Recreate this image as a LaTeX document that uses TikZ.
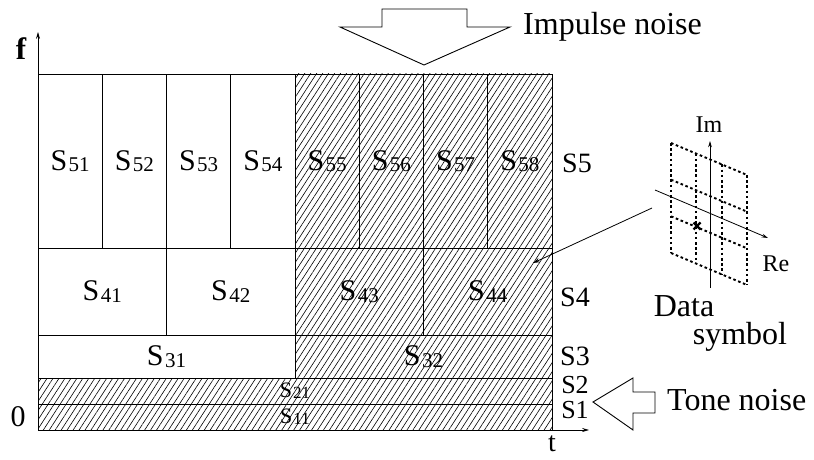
\documentclass[tikz,border=0pt]{standalone}
\usepackage{fontspec}
\setmainfont{Liberation Serif}
\usepackage{tikz}
\usetikzlibrary{arrows.meta, calc, patterns.meta}
\newcommand{\Slab}[1]{\fontsize{30}{30}\selectfont S\kern1.5pt\raisebox{-1.5pt}{\fontsize{21}{21}\selectfont #1}}
\newcommand{\Sslab}[1]{\fontsize{22}{22}\selectfont S\kern1pt\raisebox{-1pt}{\fontsize{17}{17}\selectfont #1}}
\tikzset{
  cell/.style={draw=black, line width=0.9pt, inner sep=0pt, outer sep=0pt},
  hatch/.style={pattern={Lines[angle=57, distance=5pt, line width=0.6pt]}},
  row5/.style={minimum width=64.25pt, minimum height=174pt},
  row4/.style={minimum width=128.5pt, minimum height=87pt},
  row3/.style={minimum width=257pt, minimum height=43pt},
  rowlow/.style={minimum width=514pt, minimum height=26pt},
  axis/.style={-{Stealth[length=2.4mm,width=1.4mm]}, line width=0.8pt},
  thinarr/.style={-{Stealth[length=2.2mm,width=1.3mm]}, line width=0.8pt},
  ptr/.style={-{Stealth[length=2.4mm,width=1.5mm]}, line width=0.8pt},
  blockarr/.style={draw=black, line width=0.9pt, fill=white, line join=miter},
  dotgrid/.style={line width=1.9pt, dash pattern=on 2.6pt off 2.6pt},
  big/.style={font=\fontsize{32}{34}\selectfont, inner sep=0pt},
  band/.style={font=\fontsize{28}{28}\selectfont, inner sep=0pt},
  small/.style={font=\fontsize{24}{24}\selectfont, inner sep=0pt}
}
\begin{document}
\begin{tikzpicture}[x=1pt, y=1pt]
\useasboundingbox (0,0) rectangle (814,-460);
% ---------- band S5 ----------
\node[cell, row5] (s51) at ( 70.125,-161) {\Slab{51}};
\node[cell, row5] (s52) at (134.375,-161) {\Slab{52}};
\node[cell, row5] (s53) at (198.625,-161) {\Slab{53}};
\node[cell, row5] (s54) at (262.875,-161) {\Slab{54}};
\node[cell, row5, hatch] (s55) at (327.125,-161) {\Slab{55}};
\node[cell, row5, hatch] (s56) at (391.375,-161) {\Slab{56}};
\node[cell, row5, hatch] (s57) at (455.625,-161) {\Slab{57}};
\node[cell, row5, hatch] (s58) at (519.875,-161) {\Slab{58}};
% ---------- band S4 ----------
\node[cell, row4] (s41) at (102.25,-291.5) {\Slab{41}};
\node[cell, row4] (s42) at (230.75,-291.5) {\Slab{42}};
\node[cell, row4, hatch] (s43) at (359.25,-291.5) {\Slab{43}};
\node[cell, row4, hatch] (s44) at (487.75,-291.5) {\Slab{44}};
% ---------- bands S3, S2, S1 ----------
\node[cell, row3] (s31) at (166.5,-356.5) {\Slab{31}};
\node[cell, row3, hatch] (s32) at (423.5,-356.5) {\Slab{32}};
\node[cell, rowlow, hatch] (s21) at (295,-391) {\Sslab{21}};
\node[cell, rowlow, hatch] (s11) at (295,-417) {\Sslab{11}};
% ---------- axes ----------
\coordinate (o) at (38,-430);
\coordinate (ftop) at (38,-32);
\coordinate (tend) at (589,-430);
\draw[axis] (o) -- (ftop);
\draw[axis] (o) -- (tend);
\node[font=\fontsize{31}{31}\selectfont\bfseries, inner sep=0pt] (flab) at (21,-49) {f};
\node[big, font=\fontsize{30}{30}\selectfont] (zero) at (18,-417) {0};
\node[big, font=\fontsize{28}{28}\selectfont] (tlab) at (552,-444) {t};
% ---------- band labels ----------
\node[band] (l5) at (577,-163) {S5};
\node[band] (l4) at (575,-297) {S4};
\node[band] (l3) at (575,-356) {S3};
\node[band, font=\fontsize{26}{26}\selectfont] (l2) at (575,-385) {S2};
\node[band, font=\fontsize{26}{26}\selectfont] (l1) at (575,-410) {S1};
% ---------- noise arrows ----------
\draw[blockarr] (382,-9) -- (467,-9) -- (467,-27) -- (510,-27) -- (424,-65)
  -- (340,-27) -- (382,-27) -- cycle;
\node[big, anchor=west] (imp) at (523,-27) {Impulse noise};
\draw[blockarr] (593,-402) -- (633,-378) -- (633,-392) -- (655,-392) -- (655,-413)
  -- (633,-413) -- (633,-430) -- cycle;
\node[big, anchor=west] (tone) at (667,-400) {Tone noise};
% ---------- data symbol constellation ----------
\coordinate (cTL) at (671,-143);
\foreach \i in {0,1,2,3} {
  \draw[dotgrid] ($(cTL)+\i/3*(76,-32)$) -- ++(0,-110);
  \draw[dotgrid] ($(cTL)+\i/3*(0,-110)$) -- ++(76,-32);
}
\coordinate (imlo) at (710,-288);
\coordinate (imhi) at (710,-141);
\draw[thinarr] (imlo) -- (imhi);
\coordinate (relo) at (655,-190);
\coordinate (rehi) at (768,-238);
\draw[thinarr] (relo) -- (rehi);
\node[small] (im) at (709,-125) {Im};
\node[small] (re) at (776,-264) {Re};
\coordinate (dsym) at (697,-226);
\draw[line width=2.2pt] ($(dsym)+(-3.5,3.5)$) -- ($(dsym)+(3.5,-3.5)$);
\draw[line width=2.2pt] ($(dsym)+(-3.5,-3.5)$) -- ($(dsym)+(3.5,3.5)$);
\node[big] (data) at (684,-306) {Data};
\node[big] (symb) at (740,-337) {symbol};
\coordinate (ptrstart) at (652,-208);
\draw[ptr] (ptrstart) -- ($(s44.north east)+(-19,-15)$);
\end{tikzpicture}
\end{document}
